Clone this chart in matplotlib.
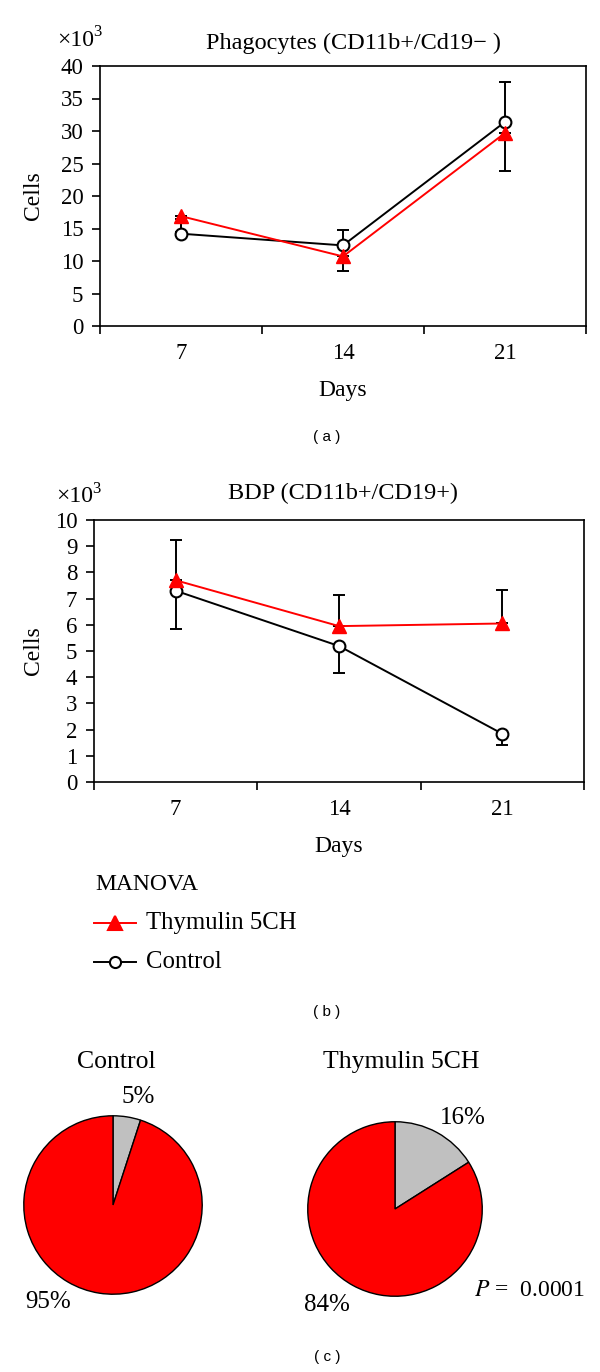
import matplotlib
matplotlib.use("Agg")
import matplotlib.pyplot as plt
import numpy as np

plt.rcParams['font.family'] = ['Liberation Serif', 'DejaVu Serif']
plt.rcParams['mathtext.fontset'] = 'stix'

# data
days = ["7", "14", "21"]

phago_control = [14.2, 12.4, 31.4]
phago_control_err = [2.3, 2.4, 6.2]      # upper only
phago_thymulin = [16.9, 10.7, 29.7]
phago_thymulin_err = [2.5, 2.2, 5.8]     # lower only

bdp_control = [7.30, 5.19, 1.84]
bdp_control_err = [1.46, 1.03, 0.42]     # lower only
bdp_thymulin = [7.70, 5.95, 6.05]
bdp_thymulin_err = [1.55, 1.19, 1.27]    # upper only

pie_labels = ["Control", "Thymulin 5CH"]
pie_gray = [5, 16]
pie_red = [95, 84]

W, H = 600, 1372
RED = "#ff0000"
GRAY = "#c0c0c0"

fig = plt.figure(figsize=(W / 100, H / 100), dpi=100)


def px(x, y):
    return x / W, 1 - y / H


def box(left, top, right, bottom):
    return [left / W, 1 - bottom / H, (right - left) / W, (bottom - top) / H]


def line_panel(rect, ctrl, ctrl_err, thy, thy_err, ctrl_up, ymax, ystep, title, title_xy, x10_xy):
    ax = fig.add_axes(rect)
    x = np.arange(1, len(days) + 1)
    zeros = [0] * len(days)
    c_err = [zeros, ctrl_err] if ctrl_up else [ctrl_err, zeros]
    t_err = [thy_err, zeros] if ctrl_up else [zeros, thy_err]
    ax.errorbar(x, ctrl, yerr=c_err, fmt='none', ecolor='black', elinewidth=1.4, capsize=4.5, capthick=1.4, zorder=2)
    ax.errorbar(x, thy, yerr=t_err, fmt='none', ecolor='black', elinewidth=1.4, capsize=4.5, capthick=1.4, zorder=2)
    ax.plot(x, ctrl, color='black', lw=1.4, marker='o', ms=8.5, mfc='white', mec='black', mew=1.5, zorder=3)
    ax.plot(x, thy, color=RED, lw=1.4, marker='^', ms=10, mfc=RED, mec=RED, zorder=4)
    ax.set_xlim(0.5, len(days) + 0.5)
    ax.set_ylim(0, ymax)
    ax.set_yticks(np.arange(0, ymax + ystep / 2, ystep))
    ax.set_xticks(np.arange(0.5, len(days) + 1, 1))
    ax.set_xticklabels([])
    ax.set_xticks(x, minor=True)
    ax.set_xticklabels(days, minor=True)
    ax.tick_params(axis='x', which='major', direction='out', length=6, width=1.2)
    ax.tick_params(axis='x', which='minor', length=0, labelsize=16.5, pad=12)
    ax.tick_params(axis='y', direction='out', length=6, width=1.2, labelsize=16.5, pad=6)
    for s in ax.spines.values():
        s.set_linewidth(1.2)
    ax.set_ylabel("Cells", fontsize=17)
    left_px = rect[0] * W
    width_px = rect[2] * W
    ax.yaxis.set_label_coords((44 - left_px) / width_px, 0.5)
    ax.set_xlabel("Days", fontsize=17, labelpad=12)
    fig.text(*px(*title_xy), title, fontsize=17.5, ha='center', va='center')
    fig.text(*px(*x10_xy), "\u00d710", fontsize=17, ha='left', va='center')
    fig.text(*px(x10_xy[0] + 36, x10_xy[1] - 8), "3", fontsize=12, ha='left', va='center')
    return ax


line_panel(box(100, 66, 586, 326), phago_control, phago_control_err,
           phago_thymulin, phago_thymulin_err, True, 40, 5,
           "Phagocytes (CD11b+/Cd19\u2212 )", (353, 43), (57, 40))
fig.text(*px(327, 437), "( a )", fontsize=11, family='Liberation Sans', ha='center', va='center')

line_panel(box(94, 520, 584, 782), bdp_control, bdp_control_err,
           bdp_thymulin, bdp_thymulin_err, False, 10, 1,
           "BDP (CD11b+/CD19+)", (343, 493), (56, 497))

# legend
fig.text(*px(95, 885), "MANOVA", fontsize=17, ha='left', va='center')
lx0, lx1 = 94 / W, 136 / W
for yy, col, mk, mfc, lab in [(923, RED, '^', RED, "Thymulin 5CH"), (962, 'black', 'o', 'white', "Control")]:
    fy = 1 - yy / H
    fig.add_artist(plt.Line2D([lx0, lx1], [fy, fy], color=col, lw=1.4, transform=fig.transFigure))
    fig.add_artist(plt.Line2D([(lx0 + lx1) / 2], [fy], color=col, marker=mk, ms=10 if mk == '^' else 8,
                              mfc=mfc, mec=col, mew=1.5, transform=fig.transFigure))
    fig.text(146 / W, fy, lab, fontsize=17.8, ha='left', va='center')
fig.text(*px(327, 1012), "( b )", fontsize=11, family='Liberation Sans', ha='center', va='center')

# pies
pie_geom = [(113, 1205, 91), (395, 1209, 89)]
title_xy = [(116, 1062), (401, 1062)]
small_xy = [(138, 1097), (463, 1118)]
big_xy = [(48, 1302), (327, 1305)]
for i in range(2):
    cx, cy, r = pie_geom[i]
    ax = fig.add_axes(box(cx - r, cy - r, cx + r, cy + r))
    ax.pie([pie_gray[i], pie_red[i]], colors=[GRAY, RED], startangle=90, counterclock=False,
           radius=1, wedgeprops=dict(edgecolor='black', linewidth=1.0))
    ax.set_xlim(-1.02, 1.02)
    ax.set_ylim(-1.02, 1.02)
    ax.set_aspect('equal')
    ax.axis('off')
    fig.text(*px(*title_xy[i]), pie_labels[i], fontsize=18.5, ha='center', va='center')
    fig.text(*px(*small_xy[i]), f"{pie_gray[i]}%", fontsize=18, ha='center', va='center')
    fig.text(*px(*big_xy[i]), f"{pie_red[i]}%", fontsize=18, ha='center', va='center')

fig.text(*px(474, 1290), r"$\mathit{P}$ =  0.0001", fontsize=17, ha='left', va='center')
fig.text(*px(327, 1357), "( c )", fontsize=11, family='Liberation Sans', ha='center', va='center')

fig.savefig("out.png", dpi=100)
